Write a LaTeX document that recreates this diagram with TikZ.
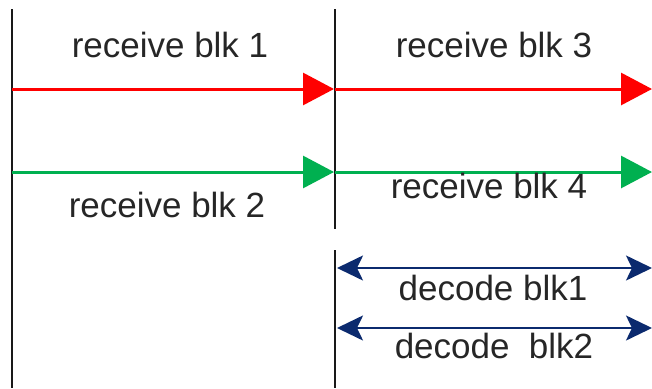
\documentclass[tikz,border=0pt]{standalone}
\usepackage{fontspec}
\setmainfont{Liberation Sans}
\usetikzlibrary{arrows.meta}
\definecolor{rxred}{HTML}{FF0000}
\definecolor{rxgreen}{HTML}{00B050}
\definecolor{decnavy}{HTML}{0B2A6E}
\tikzset{
  lbl/.style={anchor=base, inner sep=0pt, text=black!85, font=\fontsize{35}{40}\selectfont},
  slot/.style={draw=black!90, line width=1.8pt},
  rxarrow/.style={line width=3pt, -{Triangle[length=31pt,width=32pt]}},
  decarrow/.style={draw=decnavy, line width=2.2pt, {Stealth[length=26pt,width=25pt,inset=6pt]}-{Stealth[length=26pt,width=25pt,inset=6pt]}}
}
\begin{document}
\begin{tikzpicture}[x=1pt,y=-1pt]
\useasboundingbox (0,0) rectangle (652,388);
% slot boundaries
\coordinate (aTop) at (12,9);
\coordinate (aBot) at (12,388);
\coordinate (bTop) at (335,9);
\coordinate (bMid) at (335,229);
\coordinate (cTop) at (335,250);
\coordinate (cBot) at (335,388);
\draw[slot] (aTop) -- (aBot);
\draw[slot] (bTop) -- (bMid);
\draw[slot] (cTop) -- (cBot);
% receive arrows
\coordinate (r1s) at (12,89);
\coordinate (r1e) at (334,89);
\coordinate (r3s) at (335,89);
\coordinate (r3e) at (652,89);
\coordinate (g2s) at (12,172);
\coordinate (g2e) at (334,172);
\coordinate (g4s) at (335,172);
\coordinate (g4e) at (652,172);
\draw[rxarrow, rxred] (r1s) -- (r1e);
\draw[rxarrow, rxred] (r3s) -- (r3e);
\draw[rxarrow, rxgreen] (g2s) -- (g2e);
\draw[rxarrow, rxgreen] (g4s) -- (g4e);
% decode arrows
\coordinate (d1s) at (337,268);
\coordinate (d1e) at (652,268);
\coordinate (d2s) at (337,328);
\coordinate (d2e) at (652,328);
\draw[decarrow] (d1s) -- (d1e);
\draw[decarrow] (d2s) -- (d2e);
% labels
\node[lbl] (t1) at (170,57) {receive blk 1};
\node[lbl] (t3) at (494,57) {receive blk 3};
\node[lbl] (t2) at (167,217) {receive blk 2};
\node[lbl] (t4) at (489,198) {receive blk 4};
\node[lbl] (t5) at (493,300) {decode blk1};
\node[lbl] (t6) at (494,358) {decode\ \ blk2};
\end{tikzpicture}
\end{document}
